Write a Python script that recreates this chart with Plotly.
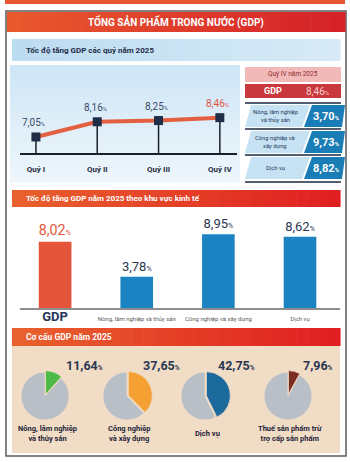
import plotly.graph_objects as go

# ---------------- data ----------------
quarters = ["Quý I", "Quý II", "Quý III", "Quý IV"]
quarter_growth = [7.05, 8.16, 8.25, 8.46]

q4_title = "Quý IV năm 2025"
q4_sectors = ["Nông, lâm nghiệp<br>và thủy sản", "Công nghiệp và<br>xây dựng", "Dịch vụ"]
q4_sector_growth = [3.70, 9.73, 8.82]

sectors = ["GDP", "Nông, lâm nghiệp và thủy sản", "Công nghiệp và xây dựng", "Dịch vụ"]
sector_growth = [8.02, 3.78, 8.95, 8.62]

structure_names = ["Nông, lâm nghiệp<br>và thủy sản", "Công nghiệp<br>và xây dựng",
                   "Dịch vụ", "Thuế sản phẩm trừ<br>trợ cấp sản phẩm"]
structure_share = [11.64, 37.65, 42.75, 7.96]

title = "TỔNG SẢN PHẨM TRONG NƯỚC (GDP)"
h1 = "Tốc độ tăng GDP các quý năm 2025"
h2 = "Tốc độ tăng GDP năm 2025 theo khu vực kinh tế"
h3 = "Cơ cấu GDP năm 2025"

# ---------------- helpers ----------------
W, H = 350, 462
FONT = "Roboto, Arial, sans-serif"
NAVY = "#2a3752"
shapes, annotations = [], []


def px(x):
    return x / W


def py(y):
    return 1 - y / H


def fmt(v, pct_size):
    return f"{v:.2f}".replace(".", ",") + f"<span style='font-size:{pct_size}px'>%</span>"


def rect(x0, y0, x1, y1, fill, line_color=None, lw=0):
    shapes.append(dict(type="rect", xref="paper", yref="paper", layer="below",
                       x0=px(x0), x1=px(x1), y0=py(y1), y1=py(y0), fillcolor=fill,
                       line=dict(width=lw, color=line_color or "rgba(0,0,0,0)")))


def poly(points, fill):
    d = "M " + " L ".join(f"{px(x):.5f},{py(y):.5f}" for x, y in points) + " Z"
    shapes.append(dict(type="path", xref="paper", yref="paper", layer="below", path=d,
                       fillcolor=fill, line=dict(width=0)))


def hline(x0, x1, y, color, lw):
    shapes.append(dict(type="line", xref="paper", yref="paper", layer="below",
                       x0=px(x0), x1=px(x1), y0=py(y), y1=py(y), line=dict(color=color, width=lw)))


def mix(c0, c1, t):
    a = [int(c0[i:i + 2], 16) for i in (1, 3, 5)]
    b = [int(c1[i:i + 2], 16) for i in (1, 3, 5)]
    return "#" + "".join(f"{round(a[k] + (b[k] - a[k]) * t):02x}" for k in range(3))


def hgrad(x0, y0, x1, y1, c0, c1, n=30):
    step = (x1 - x0) / n
    for i in range(n):
        rect(x0 + i * step, y0, x0 + (i + 1) * step + 0.6, y1, mix(c0, c1, i / (n - 1)))


def vgrad(x0, y0, x1, y1, c0, c1, n=20):
    step = (y1 - y0) / n
    for i in range(n):
        rect(x0, y0 + i * step, x1, y0 + (i + 1) * step + 0.6, mix(c0, c1, i / (n - 1)))


def text(x, y, s, size, color, bold=False, xanchor="center", yanchor="middle", align="center"):
    annotations.append(dict(xref="paper", yref="paper", x=px(x), y=py(y), text=f"<b>{s}</b>" if bold else s,
                            showarrow=False, xanchor=xanchor, yanchor=yanchor, align=align,
                            font=dict(family=FONT, size=size, color=color)))


# ---------------- decoration ----------------
rect(5, 0, 345, 4, "#e9562f")
rect(6, 11, 346, 456, "rgba(0,0,0,0)", "#5a5a5a", 1.5)
hgrad(7, 12, 345, 32, "#e9582d", "#d52229")
text(176, 22, title, 10, "white", True)

hgrad(12, 39, 340, 61, "#bcdcf1", "#d7eaf6")
text(24, 50, h1, 8, "#1f2c48", True, xanchor="left")

vgrad(10, 65, 240, 182, "#cfe6f6", "#eef6fb")

# right panel (Q4)
rect(245, 67, 341, 82, "#f2b9b9")
text(293, 74.5, q4_title, 6.5, "#8e2b2b")
rect(245, 84, 341, 98, "#c9383c")
text(273, 91, "GDP", 9, "white", True)
text(318, 91, fmt(quarter_growth[-1], 6), 10, "#f7cfcf")
row_tops = [105, 131, 157]
row_h = 22
for i, (name, val) in enumerate(zip(q4_sectors, q4_sector_growth)):
    t = row_tops[i]
    b = t + row_h
    hline(245, 341, t - 2, "#1d2940", 1.5)
    poly([(251, t), (310, t), (302, b), (245, b)], "#c6e2f3")
    poly([(312, t), (345, t), (342, b), (304, b)], "#1b7db6")
    text(275, (t + b) / 2, name, 5.8, "#23375c")
    text(326, (t + b) / 2 + 0.5, fmt(val, 6), 11, "white", True)
hline(245, 341, 182, "#1d2940", 1.5)

hgrad(12, 190, 340, 207, "#e8602c", "#e01f22")
text(24, 198.5, h2, 8, "white", True, xanchor="left")

hgrad(12, 328, 340, 346, "#e8602c", "#e01f22")
text(24, 337, h3, 8.5, "white", True, xanchor="left")
rect(12, 346, 340, 453, "#f1dcc6")

# ---------------- line chart ----------------
Y_LO, Y_HI = 5.88, 9.75
fig = go.Figure()
stem_x, stem_y = [], []
for q, v in zip(quarters, quarter_growth):
    stem_x += [q, q, None]
    stem_y += [Y_LO, v, None]
fig.add_trace(go.Scatter(x=stem_x, y=stem_y, mode="lines", line=dict(color="#1a1f2e", width=1.5),
                         hoverinfo="skip", showlegend=False, xaxis="x", yaxis="y"))
fig.add_trace(go.Scatter(x=quarters, y=quarter_growth, mode="lines+markers",
                         line=dict(color="#e2603f", width=4),
                         marker=dict(symbol="square", size=9, color="#1f2d46"),
                         hoverinfo="skip", showlegend=False, xaxis="x", yaxis="y"))
for i, (q, v) in enumerate(zip(quarters, quarter_growth)):
    annotations.append(dict(x=q, y=v, xref="x", yref="y", yshift=14, xshift=-2, showarrow=False,
                            text=fmt(v, 5.5),
                            font=dict(family=FONT, size=10,
                                      color="#e0553a" if i == len(quarters) - 1 else "#3c4b68")))

# ---------------- bar chart ----------------
bar_colors = ["#e4553b"] + ["#1c84c2"] * (len(sectors) - 1)
bar_text = [fmt(v, 9 if i == 0 else 7) for i, v in enumerate(sector_growth)]
fig.add_trace(go.Bar(x=sectors, y=sector_growth, marker=dict(color=bar_colors, line=dict(width=0)),
                     width=0.4, text=bar_text, textposition="outside", cliponaxis=False,
                     textfont=dict(family=FONT, size=[17, 13, 13, 13],
                                   color=["#e4553b", NAVY, NAVY, NAVY]),
                     hoverinfo="skip", showlegend=False, xaxis="x2", yaxis="y2"))
bar_ticktext = ["<span style='font-size:13px;color:#26355a'><b>GDP</b></span>"] + sectors[1:]

# ---------------- pies ----------------
pie_colors = ["#4db949", "#f5a033", "#1c6a9c", "#7b2f22"]
pie_cx = [45, 127, 205, 288]
pie_cy = 396
PULL = 0.06
R = 24
label_cx = [84, 161, 236, 318]
for i, (name, share) in enumerate(zip(structure_names, structure_share)):
    s = R * (1 + PULL)
    fig.add_trace(go.Pie(values=[share, 100 - share], marker=dict(colors=[pie_colors[i], "#b8bfc7"],
                                                                   line=dict(color="#f1dcc6", width=0.8)),
                         pull=[PULL, 0], sort=False, direction="clockwise", rotation=0,
                         textinfo="none", hoverinfo="skip", showlegend=False,
                         domain=dict(x=[px(pie_cx[i] - s), px(pie_cx[i] + s)],
                                     y=[py(pie_cy + s), py(pie_cy - s)])))
    text(label_cx[i], 365, fmt(share, 6.5), 12.5, NAVY, True)
    text(pie_cx[i] + 2, 433, name, 7.5, "#1e2438", True)

# ---------------- layout ----------------
fig.update_layout(
    width=W, height=H, margin=dict(l=0, r=0, t=0, b=0),
    paper_bgcolor="white", plot_bgcolor="rgba(0,0,0,0)",
    font=dict(family=FONT),
    shapes=shapes, annotations=annotations,
    xaxis=dict(domain=[px(20), px(237)], range=[-0.26, 3.28], type="category",
               showgrid=False, zeroline=False, showline=True, linecolor="#1c1f2a", linewidth=1.5,
               ticks="", ticklabelstandoff=8,
               tickfont=dict(family=FONT, size=8, color="#1e2a40"),
               tickvals=quarters, ticktext=[f"<b>{q}</b>" for q in quarters], anchor="y"),
    yaxis=dict(domain=[py(153), py(100)], range=[Y_LO, Y_HI], visible=False, anchor="x"),
    xaxis2=dict(domain=[px(20), px(340)], range=[-0.43, 3.49], type="category",
                showgrid=False, zeroline=False, showline=True, linecolor="#8d8d8d", linewidth=1.5,
                ticks="", ticklabelstandoff=4,
                tickfont=dict(family=FONT, size=6, color="#5a5a5a"),
                tickvals=sectors, ticktext=bar_ticktext, anchor="y2"),
    yaxis2=dict(domain=[py(308), py(215)], range=[0, 11.27], visible=False, anchor="x2"),
)

fig.write_html("out.html")
